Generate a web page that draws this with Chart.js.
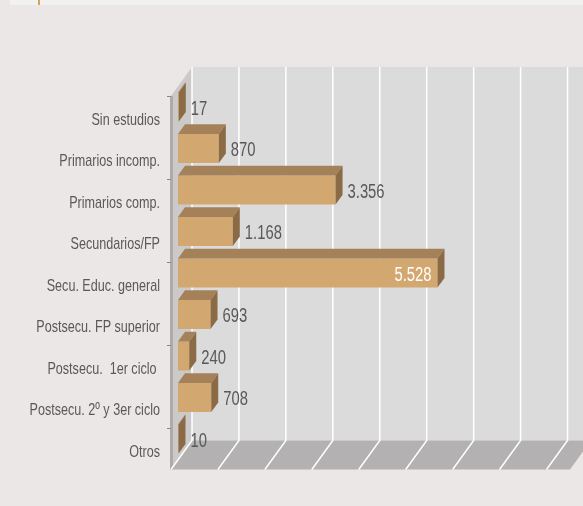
<!DOCTYPE html>
<html><head><meta charset="utf-8">
<script src="https://cdn.jsdelivr.net/npm/chart.js@4/dist/chart.umd.min.js"></script>
<style>html,body{margin:0;padding:0;background:#ECE7E7;overflow:hidden}canvas{display:block}</style>
</head><body>
<canvas id="c" width="583" height="506"></canvas>
<script>
const categories = ['Sin estudios','Primarios incomp.','Primarios comp.','Secundarios/FP','Secu. Educ. general','Postsecu. FP superior','Postsecu.  1er ciclo ','Postsecu. 2º y 3er ciclo','Otros'];
const values = [17, 870, 3356, 1168, 5528, 693, 240, 708, 10];
const axisMin = 0;
const axisMax = 8500;
const axisStep = 1000;

const FONT = "'Liberation Sans', Arial, sans-serif";
const SX = 0.74; // horizontal condensing of the text
function fmt(v){ return String(v).replace(/\B(?=(\d{3})+(?!\d))/g, '.'); }

// 3D depth of the plot box (pixels) and the bar slab position within it
const depth = {dx: 21, dy: 29, front: 1/3, back: 2/3};
function pt(x, y, t){ return [x + (t - depth.front) * depth.dx, y - (t - depth.front) * depth.dy]; }

function condensedText(ctx, text, x, y, align){
  ctx.save();
  ctx.translate(x, 0); ctx.scale(SX, 1); ctx.translate(-x, 0);
  ctx.textAlign = align;
  ctx.fillText(text, x, y);
  ctx.restore();
}

const scene = {
  id: 'scene',
  afterLayout(chart){
    const ys = chart.scales.y;
    if (ys && !ys._condensed){
      const orig = ys.drawLabels;
      ys._computeLabelArea = function(){ return undefined; };
      ys.drawLabels = function(area){
        const c = this.ctx;
        const items = this.getLabelItems(area);
        const ax = items.length ? items[0].options.translation[0] : this.right;
        c.save(); c.translate(ax, 0); c.scale(SX, 1); c.translate(-ax, 0);
        orig.call(this, area);
        c.restore();
      };
      ys._condensed = true;
    }
  },
  beforeDraw(chart){
    const {ctx, chartArea: a, scales: {x, y}} = chart;
    ctx.save();
    ctx.fillStyle = '#ECE7E7'; ctx.fillRect(0, 0, chart.width, chart.height);
    ctx.fillStyle = '#F1F1F1'; ctx.fillRect(10, 0, chart.width - 10, 5);
    ctx.fillStyle = '#D9A15C'; ctx.fillRect(38, 0, 2, 5);
    const x0 = x.getPixelForValue(axisMin), x1 = x.getPixelForValue(axisMax);
    const [bl, bt] = pt(x0, a.top, 1);
    const [, bb] = pt(x0, a.bottom, 1);
    const [br] = pt(x1, a.top, 1);
    const [fl, fb] = pt(x0, a.bottom, 0);
    const [, ft] = pt(x0, a.top, 0);
    const [fr] = pt(x1, a.bottom, 0);
    // back wall
    ctx.fillStyle = '#DCDBDB'; ctx.fillRect(bl, bt, br - bl, bb - bt);
    // floor
    ctx.fillStyle = '#B3B1B1';
    ctx.beginPath(); ctx.moveTo(fl, fb); ctx.lineTo(bl, bb); ctx.lineTo(br, bb); ctx.lineTo(fr, fb); ctx.closePath(); ctx.fill();
    // left wall
    ctx.fillStyle = '#CCC9C9';
    ctx.beginPath(); ctx.moveTo(fl, ft); ctx.lineTo(bl, bt); ctx.lineTo(bl, bb); ctx.lineTo(fl, fb); ctx.closePath(); ctx.fill();
    ctx.fillStyle = '#ADAAAA'; ctx.fillRect(fl - 1, ft, 3, fb - ft);
    // grid lines (back wall + floor)
    ctx.strokeStyle = '#FFFFFF'; ctx.lineWidth = 1.5;
    for (let v = axisMin; v < axisMax; v += axisStep){
      const px = x.getPixelForValue(v);
      const [gx] = pt(px, 0, 1), [fx] = pt(px, 0, 0);
      ctx.beginPath(); ctx.moveTo(gx, bt); ctx.lineTo(gx, bb); ctx.lineTo(fx, fb); ctx.stroke();
    }
    // category tick marks on the front edge (every second boundary)
    ctx.strokeStyle = '#8A8787'; ctx.lineWidth = 1;
    const half = (y.getPixelForValue(1) - y.getPixelForValue(0)) / 2;
    for (let i = 0; i < categories.length; i += 2){
      const [, ty] = pt(x0, y.getPixelForValue(i) - half, 0);
      ctx.beginPath(); ctx.moveTo(fl - 4, Math.round(ty) + 0.5); ctx.lineTo(fl, Math.round(ty) + 0.5); ctx.stroke();
    }
    ctx.restore();
  },
  afterDatasetsDraw(chart){
    const {ctx} = chart;
    const meta = chart.getDatasetMeta(0);
    const ddx = (depth.back - depth.front) * depth.dx, ddy = (depth.back - depth.front) * depth.dy;
    const maxV = Math.max(...values);
    ctx.save();
    meta.data.forEach((bar, i) => {
      const p = bar.getProps(['x', 'y', 'base', 'height'], true);
      const top = p.y - p.height / 2, bot = p.y + p.height / 2, ex = p.x, b0 = p.base;
      ctx.fillStyle = '#A48159';
      ctx.beginPath(); ctx.moveTo(b0, top); ctx.lineTo(b0 + ddx, top - ddy); ctx.lineTo(ex + ddx, top - ddy); ctx.lineTo(ex, top); ctx.closePath(); ctx.fill();
      ctx.fillStyle = '#8B6B46';
      ctx.beginPath(); ctx.moveTo(ex, top); ctx.lineTo(ex + ddx, top - ddy); ctx.lineTo(ex + ddx, bot - ddy); ctx.lineTo(ex, bot); ctx.closePath(); ctx.fill();
      ctx.font = '20px ' + FONT;
      ctx.textBaseline = 'middle';
      if (values[i] === maxV){
        ctx.fillStyle = '#FFFFFF';
        condensedText(ctx, fmt(values[i]), ex - 6, p.y + 2, 'right');
      } else {
        ctx.fillStyle = '#595959';
        condensedText(ctx, fmt(values[i]), ex + ddx + 5, p.y + 2.3, 'left');
      }
    });
    ctx.restore();
  }
};

new Chart(document.getElementById('c'), {
  type: 'bar',
  data: {labels: categories, datasets: [{data: values, backgroundColor: '#D2A870', borderWidth: 0, barPercentage: 0.7, categoryPercentage: 1}]},
  options: {
    indexAxis: 'y', responsive: false, animation: false,
    layout: {padding: {top: 86.3, bottom: 46.2, left: 0, right: 6}},
    plugins: {legend: {display: false}, tooltip: {enabled: false}},
    scales: {
      x: {min: axisMin, max: axisMax, ticks: {stepSize: axisStep, display: false}, grid: {display: false}, border: {display: false}, afterFit(s){ s.height = 0; }},
      y: {ticks: {color: '#595959', font: {family: FONT, size: 17}, padding: 10, labelOffset: 13, autoSkip: false}, grid: {display: false}, border: {display: false}, afterFit(s){ s.width = 178; }}
    }
  },
  plugins: [scene]
});
</script>
</body></html>
